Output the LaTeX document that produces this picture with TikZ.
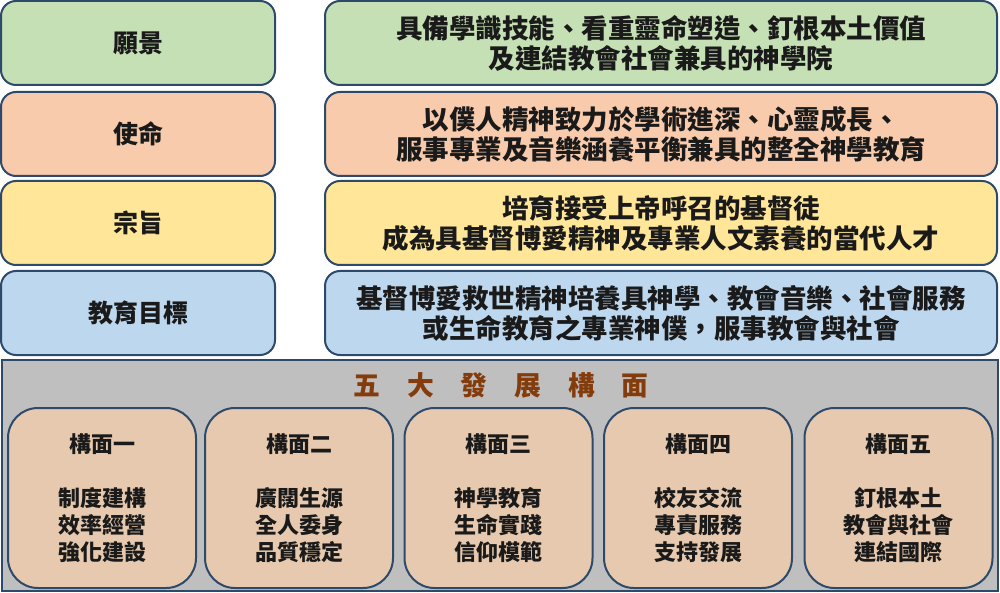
\documentclass[tikz,border=0pt]{standalone}
\usepackage{fontspec}
\setmainfont{Noto Sans CJK TC}
\definecolor{bordc}{HTML}{2E4A6B}
\definecolor{gfill}{HTML}{C5E0B4}
\definecolor{ofill}{HTML}{F8CBAD}
\definecolor{yfill}{HTML}{FFE699}
\definecolor{bfill}{HTML}{BDD7EE}
\definecolor{grayfill}{HTML}{BFBFBF}
\definecolor{tanfill}{HTML}{E6C9AE}
\definecolor{titlec}{HTML}{843C0C}
\definecolor{textc}{HTML}{1A1A1A}
\begin{document}
\begin{tikzpicture}[x=1pt,y=-1pt,
  rowbox/.style={draw=bordc, line width=2pt, rounded corners=15pt, inner sep=0pt, align=center,
    text=textc, minimum height=84pt},
  leftbox/.style={rowbox, minimum width=274pt, font=\bfseries\fontsize{25}{30}\selectfont},
  rightbox/.style={rowbox, minimum width=672pt, font=\bfseries\fontsize{26.5}{30}\selectfont},
  facet/.style={draw=bordc, line width=2pt, rounded corners=30pt, inner sep=0pt, align=center,
    fill=tanfill, text=textc, minimum width=188pt, minimum height=180pt,
    font=\bfseries\fontsize{22}{27}\selectfont}]
\useasboundingbox (0,0) rectangle (1000,593);
\node[leftbox, fill=gfill] (vl) at (138,43) {願景};
\node[rightbox, fill=gfill] (vr) at (661,43) {具備學識技能、看重靈命塑造、釘根本土價值\\及連結教會社會兼具的神學院};
\node[leftbox, fill=ofill] (ml) at (138,134) {使命};
\node[rightbox, fill=ofill] (mr) at (661,134) {以僕人精神致力於學術進深、心靈成長、\\服事專業及音樂涵養平衡兼具的整全神學教育};
\node[leftbox, fill=yfill] (pl) at (138,223) {宗旨};
\node[rightbox, fill=yfill] (pr) at (661,223) {培育接受上帝呼召的基督徒\\成為具基督博愛精神及專業人文素養的當代人才};
\node[leftbox, fill=bfill] (el) at (138,313) {教育目標};
\node[rightbox, fill=bfill] (er) at (661,313) {基督博愛救世精神培養具神學、教會音樂、社會服務\\或生命教育之專業神僕，服事教會與社會};
\node[draw=bordc, fill=grayfill, line width=2pt, minimum width=996pt, minimum height=231pt, inner sep=0pt] (frame) at (500,475.5) {};
\node[text=titlec, font=\bfseries\fontsize{26.8}{30}\selectfont, inner sep=0pt] (title) at (501,385) {五　大　發　展　構　面};
\node[facet] (f1) at (102,498) {構面一\\[27pt]制度建構\\效率經營\\強化建設};
\node[facet] (f2) at (299,498) {構面二\\[27pt]廣闊生源\\全人委身\\品質穩定};
\node[facet] (f3) at (498.5,498) {構面三\\[27pt]神學教育\\生命實踐\\信仰模範};
\node[facet] (f4) at (698,498) {構面四\\[27pt]校友交流\\專責服務\\支持發展};
\node[facet] (f5) at (898.5,498) {構面五\\[27pt]釘根本土\\教會與社會\\連結國際};
\end{tikzpicture}
\end{document}
